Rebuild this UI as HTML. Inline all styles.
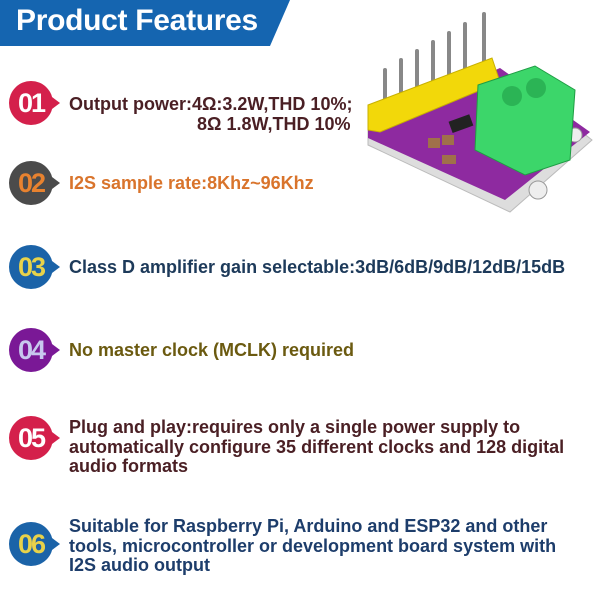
<!DOCTYPE html>
<html><head><meta charset="utf-8"><style>
body{margin:0;width:600px;height:600px;background:#fff;position:relative;overflow:hidden;font-family:"Liberation Sans",Arial,sans-serif}
.hdr{position:absolute;left:0;top:0;width:600px;height:46px}
.t{position:absolute;left:16px;top:4px;color:#fff;font-weight:bold;font-size:30px;letter-spacing:-0.3px}
.c{position:absolute;left:9px;width:44px;height:44px;border-radius:50%;color:#fff;font-weight:bold;font-size:27px;line-height:44px;text-align:center;letter-spacing:-2px}
.c:after{content:"";position:absolute;right:-7px;top:16px;border-left:8px solid;border-left-color:inherit;border-top:6px solid transparent;border-bottom:6px solid transparent}
.x{position:absolute;left:69px;font-weight:bold;font-size:18px;line-height:19.5px;white-space:nowrap}
</style></head><body>
<svg class="hdr" viewBox="0 0 600 46"><polygon points="0,0 290,0 270,46 0,46" fill="#1565b0"/></svg>
<div class="t">Product Features</div>

<div class="c" style="top:81px;background:#d4204b;border-color:#d4204b">01</div>
<div class="x" style="top:95px;color:#4a1f24">Output power:4Ω:3.2W,THD 10%;<br><span style="padding-left:128px">8Ω 1.8W,THD 10%</span></div>

<div class="c" style="top:161px;background:#4b4b4b;border-color:#4b4b4b;color:#e8822f">02</div>
<div class="x" style="top:174px;color:#d9742c">I2S sample rate:8Khz~96Khz</div>

<div class="c" style="top:245px;background:#1b63a8;border-color:#1b63a8;color:#e8d24a">03</div>
<div class="x" style="top:258px;color:#1d3a5a">Class D amplifier gain selectable:3dB/6dB/9dB/12dB/15dB</div>

<div class="c" style="top:328px;background:#7a1896;border-color:#7a1896;color:#c8c8ee">04</div>
<div class="x" style="top:341px;color:#6b5a10">No master clock (MCLK) required</div>

<div class="c" style="top:416px;background:#d4204b;border-color:#d4204b">05</div>
<div class="x" style="top:418px;color:#4a1f24">Plug and play:requires only a single power supply to<br>automatically configure 35 different clocks and 128 digital<br>audio formats</div>

<div class="c" style="top:522px;background:#1b63a8;border-color:#1b63a8;color:#e8d24a">06</div>
<div class="x" style="top:517px;color:#1d3d6b">Suitable for Raspberry Pi, Arduino and ESP32 and other<br>tools, microcontroller or development board system with<br>I2S audio output</div>

<svg style="position:absolute;left:360px;top:0" width="240" height="220" viewBox="0 0 240 220">
<polygon points="8,130 150,75 232,140 150,212 8,145" fill="#ddd" stroke="#bbb"/>
<polygon points="8,125 140,68 230,132 145,200 8,138" fill="#8e2aa0"/>
<circle cx="178" cy="190" r="9" fill="#eee" stroke="#999"/>
<circle cx="215" cy="135" r="7" fill="#eee" stroke="#999"/>
<rect x="90" y="118" width="22" height="12" fill="#222" transform="rotate(-20 100 124)"/>
<rect x="68" y="138" width="12" height="10" fill="#a0704a"/>
<rect x="82" y="135" width="12" height="10" fill="#a0704a"/>
<rect x="82" y="155" width="14" height="9" fill="#a0704a"/>
<g stroke="#888" stroke-width="4" stroke-linecap="round">
<line x1="25" y1="70" x2="25" y2="108"/><line x1="41" y1="60" x2="41" y2="100"/><line x1="57" y1="51" x2="57" y2="92"/><line x1="73" y1="42" x2="73" y2="85"/><line x1="89" y1="33" x2="89" y2="78"/><line x1="105" y1="24" x2="105" y2="70"/><line x1="124" y1="14" x2="124" y2="62"/>
</g>
<polygon points="8,105 132,58 140,82 20,132 8,130" fill="#f2d80a" stroke="#c8b000"/>
<polygon points="118,85 175,66 215,90 210,160 165,175 115,150" fill="#3cd66a" stroke="#1f9d44"/>
<circle cx="152" cy="96" r="10" fill="#2bb455"/><circle cx="176" cy="88" r="10" fill="#2bb455"/>
</svg>
</body></html>
